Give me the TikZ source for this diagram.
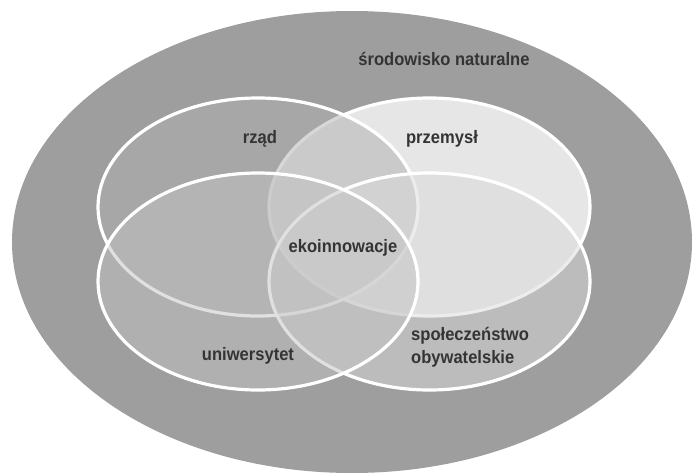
\documentclass[tikz,border=0pt]{standalone}
\usepackage{fontspec}
\setmainfont{Liberation Sans}[FakeStretch=0.92]
\usepackage{tikz}
\usetikzlibrary{positioning}
\definecolor{envgray}{RGB}{158,158,158}
\definecolor{govgray}{RGB}{176,176,176}
\definecolor{indgray}{RGB}{230,230,230}
\definecolor{unigray}{RGB}{194,194,194}
\definecolor{socgray}{RGB}{218,218,218}
\definecolor{lblgray}{RGB}{52,52,52}

\begin{document}
\begin{tikzpicture}[x=1pt, y=-1pt,
    venn/.style={draw=white, line width=3.2pt},
    lbl/.style={text=lblgray, font=\fontsize{18}{22.5}\selectfont\bfseries, inner sep=0pt}]
    %
    \useasboundingbox (0,0) rectangle (694,474);
    %
    \fill[envgray] (352,242) ellipse [x radius=340, y radius=231];
    %
    % four spheres, lowest first
    \draw[venn, fill=indgray] (429.5,207) ellipse [x radius=160.5, y radius=109];
    \draw[venn, fill=govgray, fill opacity=0.5] (258,207) ellipse [x radius=160, y radius=109];
    \draw[venn, fill=socgray, fill opacity=0.5] (429.5,281.5) ellipse [x radius=160.5, y radius=108.5];
    \draw[venn, fill=unigray, fill opacity=0.5] (258,281.5) ellipse [x radius=160, y radius=108.5];
    %
    %
    \node[lbl, anchor=base] (srodowisko) at (444,65) {środowisko naturalne};
    \node[lbl, anchor=base] (rzad) at (260,143) {rząd};
    \node[lbl, anchor=base] (przemysl) at (442,143) {przemysł};
    \node[lbl, anchor=base] (eko) at (343,252) {ekoinnowacje};
    \node[lbl, anchor=base] (uniwersytet) at (248,360) {uniwersytet};
    \node[lbl, anchor=base west, align=left] (spoleczenstwo) at (411,363) {społeczeństwo\\obywatelskie};
    \end{tikzpicture}
\end{document}
